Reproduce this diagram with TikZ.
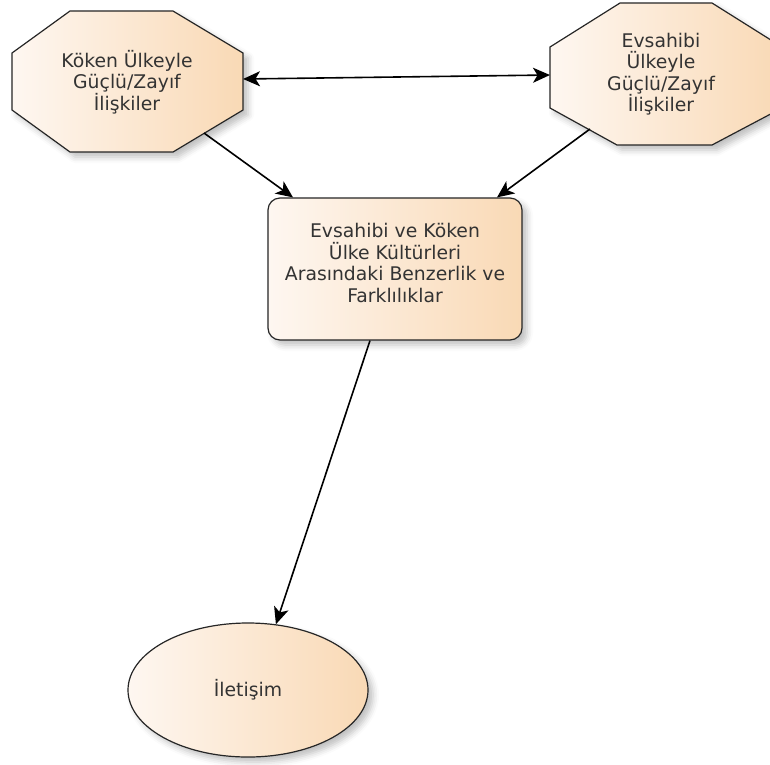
\documentclass[tikz,border=0pt]{standalone}
\usepackage{fontspec}
\setmainfont{DejaVu Sans}
\usetikzlibrary{arrows.meta,shapes.geometric,shadows.blur}
\definecolor{fillA}{HTML}{FEF7F1}
\definecolor{fillB}{HTML}{F9D9B5}
\definecolor{ink}{HTML}{333333}
\begin{document}
\begin{tikzpicture}[x=1pt,y=-1pt,
  shapebox/.style={draw=black!85, line width=1.2pt, left color=fillA, right color=fillB,
    blur shadow={shadow xshift=5pt, shadow yshift=-5pt, shadow blur radius=6pt, shadow opacity=25}},
  boxtext/.style={text=ink, align=center, font=\fontsize{18.8}{21.5}\selectfont},
  link/.style={line width=1.6pt, black},
  >={Stealth[length=17pt,width=15pt,inset=4.5pt]},
]
\useasboundingbox (0,0) rectangle (770,764);

% octagonal boxes
\path[shapebox] (70,11) -- (173,11) -- (243,53) -- (243,110) -- (173,152)
  -- (70,152) -- (12,110) -- (12,53) -- cycle;
\path[shapebox] (620,3) -- (712,3) -- (782,47) -- (782,108) -- (712,145)
  -- (617,145) -- (550,108) -- (550,47) -- cycle;

\node[boxtext] (koken) at (127,82) {Köken Ülkeyle\\Güçlü/Zayıf\\İlişkiler};
\node[boxtext] (evsahibi) at (661,74) {Evsahibi\\Ülkeyle\\Güçlü/Zayıf\\İlişkiler};

% connector ends on the octagon borders
\coordinate (koken-e) at (243,79);
\coordinate (koken-se) at (204,133);
\coordinate (evsahibi-w) at (550,75);
\coordinate (evsahibi-sw) at (590,129);

\node[shapebox, boxtext, rectangle, rounded corners=12pt, minimum width=254pt,
  minimum height=142pt] (fark) at (395,269)
  {Evsahibi ve Köken\\Ülke Kültürleri\\Arasındaki Benzerlik ve\\Farklılıklar\\[-9.5pt]};

\node[shapebox, boxtext, ellipse, minimum width=240pt, minimum height=134pt,
  inner sep=0pt] (iletisim) at (248,690) {İletişim};

% connectors
\draw[link,<->] (koken-e) -- (evsahibi-w);
\draw[link,->] (koken-se) -- ([xshift=-102pt]fark.north);
\draw[link,->] (evsahibi-sw) -- ([xshift=102pt]fark.north);
\draw[link,->] ([xshift=-25pt]fark.south) -- (iletisim.67);
\end{tikzpicture}
\end{document}
